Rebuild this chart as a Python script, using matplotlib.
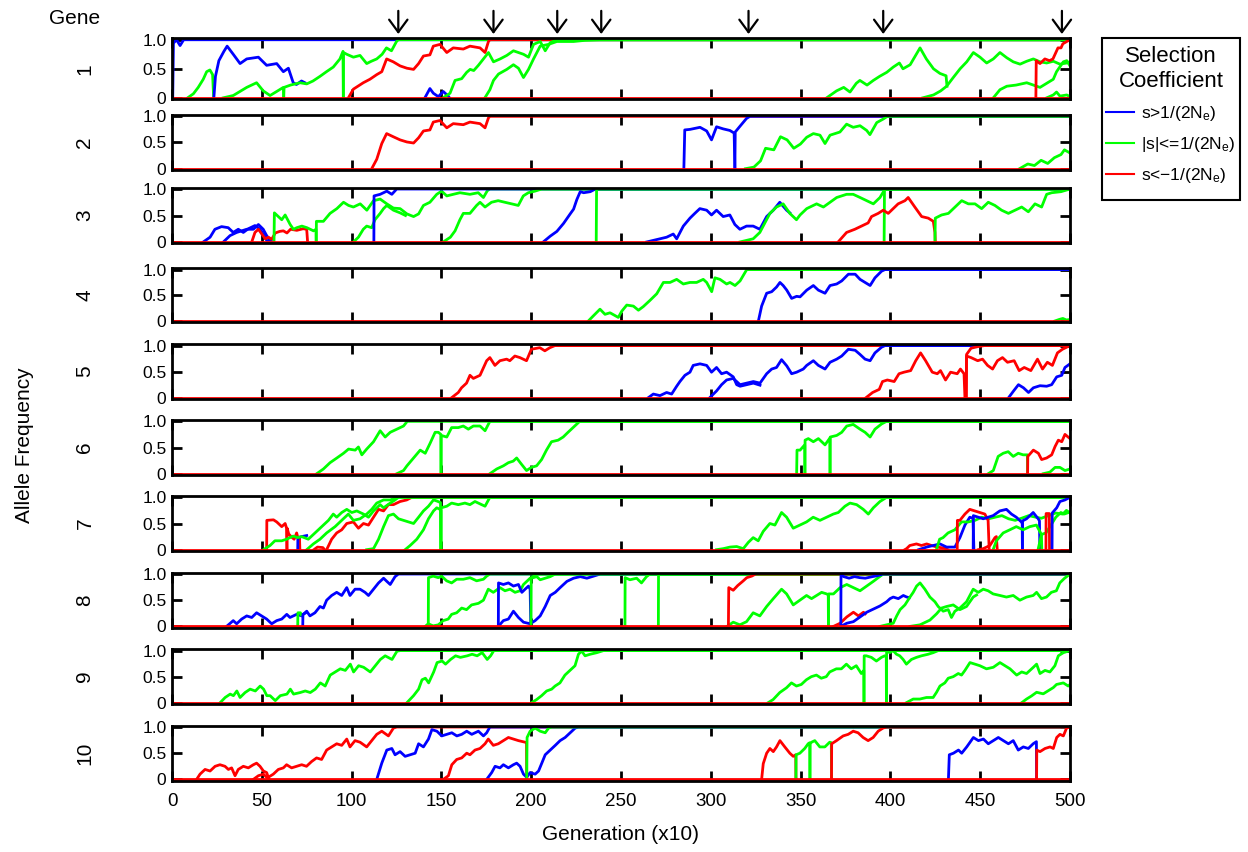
import matplotlib
matplotlib.use('Agg')
import matplotlib.pyplot as plt
from matplotlib.lines import Line2D
from matplotlib.patches import Rectangle

plt.rcParams['font.family'] = ['Liberation Sans', 'DejaVu Sans']
plt.rcParams['mathtext.default'] = 'regular'

# ---- data: allele trajectories per gene, (generation/10, frequency) ----
# 'b' s>1/(2Ne), 'g' |s|<=1/(2Ne), 'r' s<-1/(2Ne); plotted in this order
GEN_MAX = 500
ARROW_GENS = [126, 179, 214.5, 239, 321, 396, 495.5]

GENE_1 = [
    ('b', [(0.4, 0), (0.8, 0.94), (2.5, 1.0), (4.5, 0.9), (6.5, 1.0)]),
    ('g', [(8.7, 0), (11.9, 0.07), (14.6, 0.18), (17.4, 0.32), (19.3, 0.45), (21.1, 0.48), (22.6, 0.4), (23.2, 0)]),
    ('b', [(23.3, 0), (24.2, 0.37), (26.1, 0.64), (28.9, 0.8), (30.7, 0.89), (34.1, 0.75), (37.9, 0.59), (41.6, 0.67),
           (48.1, 0.70), (52.7, 0.56), (58.3, 0.59), (62, 0.45), (64.8, 0.51), (67.5, 0.26), (69.3, 0.23), (72.1, 0.29),
           (74, 0.26)]),
    ('g', [(28.5, 0), (34.1, 0.04), (41.6, 0.18), (47.1, 0.26), (50.8, 0.12), (54.6, 0.04), (62, 0.18), (62.2, 0)]),
    ('g', [(62.2, 0), (62.4, 0.18), (66, 0.22), (71.3, 0.26), (75, 0.24), (78.5, 0.29), (82.4, 0.37), (86, 0.45),
           (89.8, 0.53), (93.5, 0.67), (95.2, 0.8), (95.4, 0)]),
    ('g', [(95.4, 0), (95.5, 0.78), (97.3, 0.75), (101, 0.70), (104.7, 0.73), (108.4, 0.59), (111, 0.63), (114, 0.67),
           (117, 0.75), (119.4, 0.86), (122.2, 0.81), (125, 0.97), (126, 1.0)]),
    ('r', [(98.2, 0), (101, 0.15), (106.5, 0.26), (110.2, 0.32), (114, 0.40), (116.8, 0.45), (119.5, 0.67), (123.2, 0.62),
           (127, 0.55), (130.8, 0.51), (134.5, 0.49), (137.3, 0.59), (140, 0.72), (143.6, 0.74), (145.5, 0.89),
           (149.2, 0.92), (153, 0.78), (156.6, 0.86), (162.2, 0.84), (165.9, 0.89), (171.5, 0.86), (174.3, 0.78),
           (176.2, 0.97), (177, 1.0)]),
    ('b', [(140.8, 0), (143.6, 0.16), (145.5, 0.08), (148.3, 0.02), (151, 0.11), (153.8, 0.03), (154.5, 0)]),
    ('g', [(151, 0), (154.8, 0.08), (157.6, 0.30), (161.3, 0.33), (164.1, 0.44), (166, 0.49), (168, 0.47), (170.6, 0.56),
           (173.4, 0.67), (176.2, 0.78), (179, 0.62), (182.7, 0.67), (186.4, 0.73), (190.1, 0.81), (195.7, 0.75),
           (198.5, 0.70), (201.3, 0.92), (205, 0.97), (207.8, 0.81), (210.6, 0.95), (214.3, 1.0)]),
    ('g', [(174.2, 0), (177, 0.14), (179, 0.30), (181.8, 0.41), (186.4, 0.49), (190.1, 0.57), (192.9, 0.51),
           (195.7, 0.35), (198.5, 0.49), (201.3, 0.67), (205, 0.89), (209.6, 0.92), (214.3, 0.97), (223.6, 0.97),
           (230, 0.99), (238, 1.0)]),
    ('g', [(364.5, 0), (370, 0.12), (374, 0.18), (377.5, 0.1), (381, 0.25), (383, 0.3), (387, 0.22), (390.5, 0.3),
           (394, 0.37), (398, 0.44), (401.6, 0.53), (405, 0.6), (407, 0.5), (411, 0.57), (416.5, 0.86), (420, 0.67),
           (424, 0.5), (427.6, 0.42), (431, 0.38), (431.5, 0.2)]),
    ('g', [(418, 0), (424, 0.05), (428, 0.12), (431.3, 0.2), (435, 0.35), (438.8, 0.5), (442.5, 0.62), (446.2, 0.78),
           (449.9, 0.7), (453.6, 0.6), (457.3, 0.67), (461, 0.78), (464.8, 0.69), (468.4, 0.62), (472.2, 0.58),
           (475.9, 0.63), (479.6, 0.67), (483.3, 0.62), (487, 0.6), (490.7, 0.63), (494.4, 0.58), (498.2, 0.6),
           (500, 0.62)]),
    ('g', [(457.3, 0), (461, 0.14), (464.8, 0.2), (470, 0.22), (475.9, 0.26), (479.6, 0.22), (483.3, 0.18), (487, 0.25),
           (490.7, 0.32), (492.5, 0.45), (496.3, 0.62), (498.2, 0.64), (500, 0.55)]),
    ('g', [(487, 0), (490.7, 0.05), (492.5, 0.1), (494.4, 0.03), (498.2, 0.05), (500, 0.02)]),
    ('r', [(481, 0), (481.2, 0.64), (483.3, 0.59), (486, 0.67), (488.6, 0.64), (490.5, 0.67), (493.3, 0.86), (495, 0.86),
           (496, 0.93), (498.2, 0.97), (500, 1.0)]),
]

GENE_2 = [
    ('r', [(111.2, 0), (114, 0.18), (116.8, 0.48), (119.5, 0.67), (123.2, 0.61), (127, 0.55), (130.8, 0.51),
           (134.5, 0.49), (137.3, 0.59), (140, 0.72), (143.6, 0.74), (145.5, 0.89), (149.2, 0.92), (153, 0.78),
           (156.6, 0.86), (162.2, 0.84), (165.9, 0.89), (171.5, 0.86), (174.3, 0.78), (176.2, 0.97), (177, 1.0)]),
    ('b', [(285, 0), (285.5, 0.74), (288.4, 0.75), (294, 0.79), (297.7, 0.72), (300.4, 0.55), (303.2, 0.8),
           (306.9, 0.76), (310.6, 0.73), (313, 0.68), (313.4, 0)]),
    ('b', [(313.4, 0), (313.6, 0.7), (316, 0.8), (319.9, 0.96), (321.8, 1.0)]),
    ('g', [(319.3, 0), (324, 0.03), (327.7, 0.15), (330.5, 0.39), (335.1, 0.36), (338.8, 0.61), (342.5, 0.55),
           (346.2, 0.39), (349.9, 0.47), (353.4, 0.6), (357.1, 0.67), (360.8, 0.64), (363.6, 0.48), (366.4, 0.64),
           (371.9, 0.70), (375.6, 0.85), (379.3, 0.79), (383.1, 0.82), (386.8, 0.73), (388.6, 0.65), (392.4, 0.88),
           (396.1, 0.95), (398.3, 1.0)]),
    ('g', [(471.9, 0), (476.5, 0.09), (480.2, 0.06), (483.9, 0.16), (487.6, 0.1), (491.3, 0.21), (495, 0.27),
           (496.9, 0.36), (500, 0.3)]),
]

GENE_3 = [
    ('b', [(17.4, 0), (21.2, 0.09), (23.9, 0.24), (27.6, 0.29), (31.3, 0.27), (34.1, 0.18), (36.9, 0.24), (39.7, 0.18),
           (42.5, 0.25), (46.2, 0.31), (49, 0.24), (50.8, 0.15), (52.7, 0.03), (54.6, 0)]),
    ('b', [(28.6, 0), (32.3, 0.12), (36, 0.18), (41.6, 0.24), (45.3, 0.24), (48.1, 0.33), (50.8, 0.24), (52.7, 0.12),
           (54.6, 0.03), (56, 0)]),
    ('r', [(44.4, 0), (46.2, 0.18), (48.1, 0.24), (50, 0.15), (51.9, 0.06), (53.7, 0.09), (55.5, 0.05), (57.5, 0.17),
           (60, 0.2), (62, 0.21), (64, 0.17), (66, 0.24), (69.5, 0.22), (73, 0.25), (75, 0.24), (75.5, 0)]),
    ('g', [(56.8, 0), (57, 0.55), (59.2, 0.48), (61.1, 0.42), (63, 0.51), (65.8, 0.33), (67.6, 0.24), (69.5, 0.27),
           (72.3, 0.3), (75.1, 0.27), (78.8, 0.21), (80.2, 0.24), (80.3, 0)]),
    ('g', [(80.3, 0), (80.4, 0.39), (84.3, 0.39), (88, 0.54), (91.8, 0.63), (95.5, 0.75), (98.3, 0.69), (101, 0.66),
           (104.8, 0.72), (108.5, 0.6), (112.2, 0.78), (115.9, 0.81), (119.6, 0.72), (123.3, 0.64), (127, 0.63),
           (130.8, 0.53), (134.5, 0.48), (137.3, 0.53), (140, 0.69), (143.6, 0.75), (147.4, 0.9), (150.1, 0.96),
           (153, 0.87), (156.6, 0.9), (160.3, 0.93), (165.9, 0.9), (170.5, 0.93), (173.4, 0.84), (175.6, 0.97),
           (177, 1.0)]),
    ('g', [(101, 0), (103.8, 0.09), (106.5, 0.24), (108.4, 0.3), (111.2, 0.27), (113, 0.42), (115.9, 0.54),
           (117.8, 0.63), (119.6, 0.69), (123.3, 0.6), (127, 0.55), (130, 0.5)]),
    ('b', [(112.4, 0), (112.5, 0.87), (115.9, 0.9), (119.6, 0.96), (122.4, 0.9), (125.1, 1.0)]),
    ('g', [(151, 0), (155, 0.09), (157.6, 0.21), (160.3, 0.42), (162.2, 0.54), (165.9, 0.54), (169.6, 0.69),
           (171.5, 0.75), (174.3, 0.66), (177.9, 0.75), (181.6, 0.78), (185.3, 0.75), (189.1, 0.72), (192.8, 0.69),
           (195.6, 0.87), (198.4, 0.93), (202.1, 0.96), (205.8, 1.0)]),
    ('b', [(206.7, 0), (210.6, 0.11), (214.3, 0.2), (218, 0.35), (221.7, 0.53), (223.6, 0.62), (225.4, 0.8),
           (227.3, 0.95), (229.2, 0.93), (232.9, 0.95), (235.7, 1.0)]),
    ('g', [(236.2, 0), (236.4, 1.0)]),
    ('b', [(264.3, 0), (268, 0.03), (271.7, 0.06), (275.4, 0.09), (279.1, 0.15), (281, 0.06), (284.7, 0.3),
           (288.4, 0.45), (291.1, 0.54), (293.9, 0.63), (297.7, 0.6), (300.4, 0.51), (303.2, 0.6), (306.9, 0.48),
           (310.6, 0.51), (313.4, 0.33), (316.2, 0.24), (319.9, 0.3), (323.6, 0.3), (327.3, 0.24), (331.1, 0.48),
           (334.8, 0.6), (338.4, 0.75), (342.2, 0.6), (344, 0.55)]),
    ('g', [(316.2, 0), (323.6, 0.06), (327.3, 0.18), (330.1, 0.36), (332.9, 0.54), (336.6, 0.66), (340.3, 0.72),
           (344, 0.54), (347.7, 0.42), (349.7, 0.51), (353.4, 0.63), (358.9, 0.72), (362.7, 0.66), (366.4, 0.75),
           (370.1, 0.84), (375.6, 0.9), (379.3, 0.9), (383.1, 0.84), (386.8, 0.78), (390.5, 0.72), (394.2, 0.84),
           (397, 1.0)]),
    ('g', [(396.5, 0), (396.7, 1.0)]),
    ('r', [(370.9, 0), (375.6, 0.18), (380.2, 0.24), (383.9, 0.3), (387.6, 0.36), (389.5, 0.48), (393.2, 0.54),
           (396, 0.6), (398.8, 0.54), (404.3, 0.72), (408.1, 0.78), (409.9, 0.84), (413.6, 0.66), (417.4, 0.48),
           (421.1, 0.45), (423.9, 0.39), (424.8, 0.18), (425, 0)]),
    ('g', [(424.8, 0), (425, 0.45), (428.5, 0.51), (432.3, 0.54), (436, 0.66), (439.7, 0.78), (443.4, 0.72),
           (447.1, 0.72), (450.8, 0.63), (454.5, 0.75), (458.2, 0.69), (461.9, 0.6), (465.7, 0.54), (469.4, 0.6),
           (473.1, 0.66), (476.8, 0.57), (480.5, 0.72), (484.2, 0.66), (487, 0.9), (489.8, 0.93), (495, 0.95),
           (500, 1.0)]),
]

GENE_4 = [
    ('g', [(231.8, 0), (234.6, 0.1), (238.3, 0.23), (241.1, 0.13), (243.9, 0.16), (248.5, 0.07), (250.4, 0.19),
           (253.2, 0.31), (256.9, 0.29), (259.7, 0.21), (262.4, 0.28), (266.1, 0.40), (269.9, 0.53), (273.6, 0.75),
           (277.3, 0.75), (281, 0.81), (284.7, 0.72), (288.4, 0.75), (292.1, 0.75), (295.8, 0.81), (297.7, 0.75),
           (300.5, 0.57), (302.3, 0.84), (305.1, 0.81), (308.8, 0.72), (310.7, 0.75), (313.5, 0.69), (316.3, 0.78),
           (320, 1.0)]),
    ('b', [(326.5, 0), (328.3, 0.29), (331.1, 0.54), (333.9, 0.57), (336.6, 0.66), (338.5, 0.75), (340.3, 0.69),
           (342.3, 0.6), (345, 0.44), (347.8, 0.48), (349.7, 0.47), (353.4, 0.6), (357.1, 0.69), (359.9, 0.6),
           (363.6, 0.54), (366.4, 0.69), (370.1, 0.72), (372.9, 0.78), (376.6, 0.91), (380.4, 0.91), (383.1, 0.81),
           (385.9, 0.75), (388.7, 0.69), (391.4, 0.84), (395.1, 0.97), (397, 1.0)]),
    ('g', [(491.5, 0), (494, 0.03), (496, 0.05), (498, 0.02), (500, 0.03)]),
]

GENE_5 = [
    ('r', [(155.7, 0), (159.4, 0.1), (161.2, 0.19), (164, 0.28), (165.9, 0.43), (167.8, 0.37), (171.5, 0.43),
           (175.2, 0.71), (177, 0.77), (179.8, 0.62), (182.6, 0.71), (186.3, 0.74), (188.1, 0.71), (190.9, 0.8),
           (193.7, 0.77), (197.4, 0.71), (200.1, 0.93), (204.8, 0.96), (207.6, 0.9), (210.4, 0.96), (213.2, 1.0)]),
    ('b', [(265.2, 0), (268, 0.07), (271.7, 0.04), (275.4, 0.1), (278.2, 0.07), (281, 0.22), (282.8, 0.31),
           (285.6, 0.43), (288.4, 0.49), (290.2, 0.62), (294, 0.65), (297.7, 0.62), (300.4, 0.49), (303.2, 0.58),
           (306, 0.46), (308.8, 0.49), (312.5, 0.4), (314.4, 0.25), (316.3, 0.22), (320, 0.25), (323.7, 0.28),
           (327.4, 0.24)]),
    ('b', [(299.4, 0), (303.2, 0.13), (306, 0.25), (308.8, 0.34), (312.5, 0.37), (314.4, 0.31), (316.3, 0.25),
           (320, 0.28), (323.7, 0.31), (327.4, 0.28), (331.1, 0.46), (333.9, 0.55), (336.6, 0.58), (339.4, 0.73),
           (342.3, 0.61), (345, 0.46), (347.8, 0.49), (351.5, 0.55), (353.4, 0.62), (357.1, 0.71), (359.9, 0.62),
           (363.6, 0.55), (366.4, 0.68), (370.1, 0.74), (372.9, 0.8), (376.6, 0.93), (380.4, 0.91), (383.1, 0.83),
           (385.9, 0.74), (388.7, 0.71), (391.4, 0.86), (395.1, 0.97), (397, 1.0)]),
    ('r', [(386.4, 0), (390.1, 0.1), (393.8, 0.16), (395.6, 0.31), (398.3, 0.34), (402.1, 0.31), (404.8, 0.46),
           (407.6, 0.49), (411.3, 0.52), (414.1, 0.71), (416.8, 0.86), (419.6, 0.71), (423.3, 0.49), (426.1, 0.46),
           (427.9, 0.52), (430.7, 0.34), (433.5, 0.49), (437.2, 0.46), (439, 0.55), (441, 0.46), (441.5, 0)]),
    ('r', [(442.2, 0), (442.4, 0.8), (444.9, 0.77), (448.6, 0.71), (451.3, 0.74), (454.1, 0.62), (456.9, 0.55),
           (459.6, 0.71), (462.4, 0.77), (465.2, 0.68), (468.9, 0.71), (471.7, 0.52), (474.5, 0.58), (478.2, 0.52),
           (481.9, 0.74), (484.7, 0.55), (487.4, 0.68), (490.2, 0.62), (493, 0.86), (495.8, 0.93), (500, 1.0)]),
    ('r', [(442.2, 0), (442.4, 0.83), (444.9, 0.95), (448.6, 0.98), (452.3, 1.0)]),
    ('b', [(465.8, 0), (468.6, 0.13), (471.3, 0.25), (474.1, 0.19), (476.9, 0.1), (479.6, 0.19), (483.3, 0.23),
           (487, 0.22), (489.8, 0.25), (492.6, 0.4), (495.4, 0.43), (497.2, 0.58), (500, 0.65)]),
]

GENE_6 = [
    ('g', [(80.6, 0), (84.3, 0.09), (88, 0.21), (91.8, 0.3), (95.5, 0.39), (98.3, 0.47), (102, 0.45), (103.8, 0.51),
           (105.7, 0.36), (108.4, 0.47), (112.2, 0.61), (115.9, 0.82), (118.7, 0.7), (121.5, 0.79), (125.2, 0.85),
           (128.9, 0.91), (131, 1.0)]),
    ('g', [(125.2, 0), (128.9, 0.06), (130.8, 0.15), (134.5, 0.3), (138.2, 0.45), (141, 0.39), (143.7, 0.58),
           (146.5, 0.79), (148.3, 0.79), (149.7, 0.75), (149.8, 0)]),
    ('g', [(149.8, 0), (149.9, 0.73), (153, 0.7), (155.7, 0.88), (159.4, 0.88), (162.2, 0.91), (165, 0.85),
           (167.8, 0.91), (171.5, 0.91), (174.3, 0.82), (177, 1.0)]),
    ('g', [(177, 0), (180.8, 0.09), (184.5, 0.15), (187.3, 0.21), (190, 0.24), (191.9, 0.3), (194.6, 0.18),
           (197.4, 0.06), (200.1, 0.12), (203, 0.15), (205.8, 0.27), (208.5, 0.45), (211.3, 0.61), (215, 0.64),
           (217.8, 0.7), (220.5, 0.79), (223.3, 0.88), (226.1, 0.97), (227, 1.0)]),
    ('g', [(347.8, 0), (348, 0.45), (349.7, 0.45), (351, 0.5), (352.3, 0.55), (352.4, 0)]),
    ('g', [(352.4, 0), (352.5, 0.64), (354.3, 0.67), (357.1, 0.61), (359.9, 0.67), (363.6, 0.55), (366.3, 0.68),
           (366.4, 0)]),
    ('g', [(366.4, 0), (366.5, 0.70), (370.1, 0.73), (372.9, 0.79), (375.7, 0.91), (379.3, 0.94), (383.1, 0.85),
           (385.9, 0.79), (388.7, 0.7), (391.4, 0.85), (395.1, 0.95), (397.9, 1.0)]),
    ('g', [(454.5, 0), (457.3, 0.06), (460, 0.33), (462.8, 0.39), (465.6, 0.42), (468.4, 0.33), (471.2, 0.39),
           (473.9, 0.36), (476.3, 0.36), (476.4, 0)]),
    ('r', [(476.4, 0), (476.5, 0.33), (479.6, 0.45), (482.4, 0.39), (484.2, 0.27), (487, 0.3), (489.8, 0.36),
           (491.7, 0.52), (493.5, 0.64), (495.4, 0.61), (497.2, 0.75), (500, 0.67)]),
    ('g', [(485.1, 0), (488.8, 0.03), (491.7, 0.12), (494.4, 0.12), (497.2, 0.06), (500, 0.09)]),
]

GENE_7 = [
    ('r', [(52.7, 0), (52.8, 0.56), (56.5, 0.57), (58.3, 0.53), (61.1, 0.44), (63, 0.5), (63.8, 0.41), (64, 0)]),
    ('r', [(64, 0), (64.1, 0.41), (65, 0.3), (66.6, 0.24), (68, 0.2), (69.4, 0.32), (70.3, 0.2), (71, 0.22),
           (71.2, 0)]),
    ('b', [(70, 0), (70.1, 0.23), (72.2, 0.25), (75, 0.27)]),
    ('r', [(79, 0), (81, 0.05), (84, 0.04), (85, 0)]),
    ('r', [(86.1, 0), (88.9, 0.2), (91.7, 0.32), (94.5, 0.38), (97.3, 0.5), (101, 0.53), (103.8, 0.41), (106.6, 0.5),
           (109.4, 0.47), (112.2, 0.62), (115, 0.77), (117.8, 0.74), (120.5, 0.86), (123.3, 0.86), (127, 0.92),
           (130.7, 0.95), (133.5, 1.0)]),
    ('g', [(50.9, 0), (54.6, 0.08), (57.3, 0.17), (61.1, 0.17), (63.8, 0.2), (67.5, 0.26), (70, 0.23), (72.2, 0.25),
           (75.9, 0.2), (78.7, 0.29), (81.5, 0.38), (84.3, 0.47), (87.1, 0.56), (89.8, 0.68), (91.7, 0.62),
           (94.5, 0.71), (97.3, 0.77), (100.1, 0.71), (102.9, 0.74), (106.6, 0.68), (109.4, 0.62), (112.2, 0.74),
           (115.9, 0.86), (117.8, 0.8), (121.5, 0.89), (124.2, 0.95), (126.1, 1.0)]),
    ('g', [(75, 0), (78.7, 0.11), (82.4, 0.2), (86.1, 0.32), (90.8, 0.44), (95.4, 0.59), (98.2, 0.68), (101, 0.56),
           (104.7, 0.59), (108.4, 0.68), (111.2, 0.77), (114, 0.89), (117.8, 0.95), (121.5, 0.95), (125.2, 1.0)]),
    ('g', [(108.4, 0), (112.2, 0.02), (115, 0.2), (117.8, 0.44), (120.5, 0.65), (123.3, 0.68), (126.1, 0.59),
           (128.9, 0.56), (131.7, 0.53), (134.5, 0.5), (137.3, 0.62), (140, 0.74), (142.8, 0.83), (145.6, 0.95),
           (147.4, 0.93), (149.5, 0.9), (149.6, 0)]),
    ('g', [(129.8, 0), (132.6, 0.08), (136.3, 0.2), (140, 0.38), (142.8, 0.59), (145.6, 0.74), (147.4, 0.8),
           (149.2, 0.77), (149.7, 0.75), (149.8, 0)]),
    ('g', [(149.8, 0), (149.9, 0.8), (153, 0.83), (155.7, 0.89), (159.4, 0.86), (163.1, 0.89), (165.9, 0.86),
           (168.7, 0.92), (172.4, 0.86), (174.3, 0.83), (176.2, 0.95), (177, 1.0)]),
    ('g', [(303.2, 0), (307, 0.02), (310.7, 0.05), (314.4, 0.06), (318.1, 0.02), (320.9, 0.14), (323.6, 0.23),
           (326.4, 0.17), (329.2, 0.35), (332.9, 0.5), (335.7, 0.47), (339.4, 0.71), (342.2, 0.62), (345.9, 0.41),
           (349.6, 0.47), (353.3, 0.53), (357, 0.62), (360.8, 0.56), (364.5, 0.62), (368.2, 0.68), (371, 0.71),
           (374.7, 0.83), (377.5, 0.89), (381.2, 0.86), (384.9, 0.77), (387.7, 0.68), (390.5, 0.8), (394.2, 0.92),
           (397.9, 1.0)]),
    ('r', [(408, 0), (409, 0.02), (410.8, 0.08), (414.5, 0.11), (417.3, 0.08), (420.2, 0.11), (422.9, 0.08),
           (426, 0.05), (430, 0.03), (432, 0)]),
    ('b', [(415.7, 0), (420.2, 0.05), (423.9, 0.08), (427.6, 0.11), (431.3, 0.05), (435.9, 0.05), (438.7, 0.23),
           (441.5, 0.47), (444.2, 0.62), (446, 0.6), (446.5, 0)]),
    ('g', [(425.6, 0), (427.4, 0.2), (429.3, 0.23), (432.1, 0.32), (435.9, 0.38), (439.6, 0.53), (443.4, 0.53),
           (447.1, 0.56), (450.9, 0.62), (454.6, 0.59), (458.3, 0.62), (462.1, 0.65), (465.8, 0.59), (469.5, 0.56),
           (473, 0.6), (477, 0.65), (481, 0.62), (484, 0.6), (488, 0.65), (492, 0.7), (496, 0.68), (498, 0.75),
           (500, 0.7)]),
    ('r', [(437.2, 0), (437.3, 0.56), (438.7, 0.56), (441.5, 0.68), (444.2, 0.77), (447, 0.74), (449.8, 0.71),
           (452.6, 0.68), (454.4, 0.56), (455, 0)]),
    ('r', [(448.9, 0), (451.7, 0.02), (455.4, 0.08), (458.2, 0.23), (459, 0.25), (459.5, 0)]),
    ('b', [(446.1, 0), (446.2, 0.65), (448.9, 0.62), (451.7, 0.59), (454.4, 0.62), (457.2, 0.65), (460.9, 0.74),
           (464.6, 0.77), (467.4, 0.68), (470.1, 0.62), (472.9, 0.53), (473.4, 0.5), (473.5, 0)]),
    ('b', [(473.5, 0), (473.6, 0.55), (475.8, 0.59), (479.5, 0.71), (482.3, 0.59), (483, 0.55), (483.2, 0)]),
    ('g', [(457.2, 0), (459, 0.17), (462.8, 0.32), (466.5, 0.38), (470.1, 0.44), (473.9, 0.38), (477.6, 0.44),
           (481.3, 0.47), (484.1, 0.29), (484.3, 0)]),
    ('g', [(482.2, 0), (484.1, 0.29), (486.6, 0.32), (489.4, 0.47), (492.1, 0.62), (494.9, 0.71), (496.8, 0.68),
           (500, 0.72)]),
    ('r', [(486.6, 0), (486.7, 0.69), (488.5, 0.69), (488.6, 0)]),
    ('b', [(490, 0), (490.1, 0.7), (492.6, 0.8), (494.4, 0.92), (497.2, 0.95), (500, 1.0)]),
]

GENE_8 = [
    ('b', [(30.4, 0), (34.1, 0.11), (36, 0.05), (38.8, 0.14), (41.6, 0.2), (44.4, 0.17), (47.1, 0.26), (49.9, 0.2),
           (52.7, 0.14), (55.5, 0.05), (58.3, 0.11), (61.1, 0.14), (63.9, 0.23), (65.7, 0.17), (69.4, 0.23),
           (72.2, 0.2), (75, 0.29), (76.8, 0.2), (79.6, 0.26), (82.4, 0.38), (84.3, 0.35), (86.1, 0.5), (88.9, 0.59),
           (91.7, 0.65), (94.5, 0.59), (97.3, 0.74), (99.1, 0.59), (101.9, 0.71), (104.7, 0.71), (107.5, 0.65),
           (109.4, 0.59), (112.2, 0.71), (115, 0.83), (117.8, 0.92), (119.6, 0.86), (121.5, 0.8), (124.2, 0.95),
           (126.1, 1.0)]),
    ('g', [(70, 0), (70.1, 0.26), (71.5, 0.26), (72, 0.22)]),
    ('b', [(72.8, 0), (72.9, 0.23), (74, 0.25), (75, 0.27)]),
    ('g', [(142.7, 0), (142.8, 0.93), (145.4, 0.96), (148.3, 0.93), (150.1, 0.96), (152.9, 0.87), (155.7, 0.83),
           (158.5, 0.9), (162.2, 0.9), (165.9, 0.93), (169.6, 0.87), (173.4, 0.9), (175.2, 0.96), (177, 1.0)]),
    ('g', [(141, 0), (142.7, 0.05), (145.4, 0.01), (148.3, 0.03), (151, 0.11), (153.8, 0.14), (155.7, 0.23),
           (158.5, 0.26), (161.3, 0.35), (164, 0.32), (166.8, 0.41), (170.6, 0.44), (173.4, 0.5), (176.1, 0.71),
           (178.9, 0.65), (182.6, 0.74), (185.4, 0.68), (188.2, 0.71), (191, 0.65), (193.8, 0.68), (195.7, 0.8),
           (199.4, 0.92), (201.2, 0.95), (203, 1.0)]),
    ('b', [(181.7, 0), (181.8, 0.83), (184.5, 0.8), (187.3, 0.83), (190.1, 0.77), (192.9, 0.8), (194.8, 0.65),
           (196.6, 0.71), (198.5, 0.77), (199.4, 0.71), (199.8, 0)]),
    ('b', [(181.7, 0), (184.5, 0.11), (187.3, 0.14), (190.1, 0.29), (192.9, 0.17), (195.7, 0.08), (199.4, 0.05),
           (202.2, 0.11), (205, 0.2), (207.8, 0.38), (210.6, 0.59), (213.4, 0.65), (216.1, 0.74), (219.9, 0.86),
           (223.6, 0.92), (227.3, 0.95), (231, 0.92), (234.8, 0.96), (238.5, 1.0)]),
    ('g', [(199.9, 0), (200, 0.92), (203.1, 0.95), (205, 0.89), (207.8, 0.92), (210.6, 0.95), (213.4, 1.0)]),
    ('g', [(252.2, 0), (252.3, 0.93), (255, 0.89), (258.7, 0.92), (261.4, 0.83), (264.2, 0.95), (266.1, 1.0)]),
    ('g', [(270.8, 0), (270.9, 1.0)]),
    ('g', [(309, 0), (312.5, 0.08), (316.2, 0.03), (319.9, 0.09), (323.6, 0.26), (327.3, 0.2), (331.1, 0.38),
           (334.8, 0.53), (339.4, 0.71), (342.2, 0.62), (345.9, 0.41), (349.6, 0.5), (353.3, 0.59), (356.1, 0.53),
           (358.9, 0.59), (361.7, 0.65), (364.5, 0.62), (365.4, 0.6), (365.5, 0)]),
    ('r', [(309.8, 0), (310, 0.74), (312.5, 0.69), (315, 0.78), (318.1, 0.87), (320, 0.93), (322.8, 0.96),
           (325, 1.0)]),
    ('g', [(365.5, 0), (365.6, 0.62), (368.3, 0.62), (372, 0.74), (375.7, 0.8), (379.4, 0.74), (383.1, 0.68),
           (386.8, 0.77), (390.5, 0.86), (394, 0.95), (396, 1.0)]),
    ('r', [(368.3, 0), (372, 0.06), (375.7, 0.18), (379.4, 0.27), (382.2, 0.2), (385, 0.27), (386, 0.24)]),
    ('b', [(372.4, 0), (372.5, 1.0), (374, 0.95), (377, 0.92), (380, 0.95), (383, 0.93), (386, 0.92), (390, 0.95),
           (393, 0.97), (396, 1.0)]),
    ('b', [(372.4, 0), (375.7, 0.06), (379.4, 0.09), (383.1, 0.18), (386.8, 0.27), (390.5, 0.33), (394.2, 0.39),
           (397.9, 0.47), (399.8, 0.53), (401.6, 0.56), (404.4, 0.53), (407.2, 0.59), (409.1, 0.56), (410.5, 0.55)]),
    ('g', [(394.2, 0), (397.9, 0.03), (401.6, 0.06), (403.5, 0.2), (405.4, 0.32), (408.1, 0.41), (410.9, 0.56),
           (412.7, 0.65), (414.6, 0.77), (416.5, 0.83), (419.2, 0.71), (422, 0.56), (424.8, 0.47), (426.6, 0.38),
           (429.4, 0.29), (432.2, 0.32), (434, 0.17), (435.9, 0.29), (438.7, 0.35), (442.4, 0.47), (446.1, 0.71),
           (448.9, 0.65), (451.7, 0.71), (454.4, 0.68), (457.2, 0.62), (461, 0.59), (464.6, 0.56), (468.4, 0.59),
           (472.1, 0.5), (475.8, 0.56), (479.5, 0.59), (481.4, 0.65), (484.1, 0.53), (486.9, 0.56), (489.6, 0.65),
           (492.4, 0.68), (494.3, 0.83), (497, 0.92), (500, 1.0)]),
    ('g', [(410.9, 0), (416.5, 0.03), (422, 0.12), (425.7, 0.24), (428.5, 0.35), (431.3, 0.38), (435, 0.41),
           (438.7, 0.32), (442.4, 0.38), (446.1, 0.56), (448, 0.6)]),
]

GENE_9 = [
    ('g', [(26.8, 0), (29.6, 0.1), (32.4, 0.165), (34.2, 0.135), (36.1, 0.225), (37.9, 0.1), (40.7, 0.195),
           (43.5, 0.26), (46.4, 0.225), (49.1, 0.32), (51, 0.26), (52.8, 0.135), (54.6, 0.135), (57.5, 0.04),
           (60.3, 0.135), (64, 0.165), (65.9, 0.26), (67.7, 0.165), (71.4, 0.195), (74.2, 0.225), (77, 0.195),
           (79.8, 0.26), (82.6, 0.38), (85.3, 0.32), (88.1, 0.53), (90.9, 0.59), (93.7, 0.65), (96.5, 0.62),
           (99.3, 0.74), (101.1, 0.59), (103.9, 0.71), (106.7, 0.68), (110.4, 0.59), (113.2, 0.71), (116, 0.83),
           (118.7, 0.9), (122.5, 0.83), (125.3, 0.99), (127.1, 1.0)]),
    ('g', [(130.8, 0), (134.5, 0.135), (137.3, 0.26), (139.2, 0.44), (141.1, 0.47), (142.9, 0.38), (145.7, 0.59),
           (147.6, 0.77), (150.4, 0.8), (152.3, 0.74), (155.1, 0.83), (157.9, 0.9), (160.6, 0.87), (164.4, 0.9),
           (167.1, 0.93), (169.9, 0.9), (172.7, 0.96), (175.5, 0.83), (177.4, 0.9), (179.2, 1.0)]),
    ('g', [(200.2, 0), (203, 0.06), (205.8, 0.135), (208.6, 0.225), (211.4, 0.26), (213.3, 0.32), (216, 0.38),
           (218.8, 0.53), (221.6, 0.62), (224.4, 0.71), (226.3, 0.93), (228.1, 0.99), (230, 0.9), (232.8, 0.93),
           (236.5, 0.96), (240.2, 1.0)]),
    ('g', [(331.9, 0), (334.7, 0.06), (338.4, 0.195), (342.1, 0.285), (344.9, 0.38), (347.7, 0.32), (350.4, 0.35),
           (353.2, 0.44), (356, 0.5), (358.8, 0.53), (361.5, 0.47), (364.3, 0.5), (366.2, 0.59), (369.9, 0.65),
           (372.7, 0.65), (375.5, 0.74), (378.2, 0.65), (381, 0.71), (383.8, 0.56), (385.2, 0.62), (385.3, 0)]),
    ('g', [(385.3, 0), (385.4, 0.9), (386.6, 0.9), (389.4, 0.87), (392.2, 0.8), (395, 0.87), (396.8, 0.9),
           (397.7, 0.88), (397.8, 0)]),
    ('g', [(397.8, 0), (397.9, 1.0), (399.6, 0.96), (401.5, 1.0), (403.4, 0.93), (405.2, 0.9), (407.1, 0.83),
           (408.9, 0.74), (411.7, 0.83), (414.5, 0.87), (417.3, 0.9), (421, 0.93), (423.8, 0.96), (426.6, 1.0)]),
    ('g', [(408.9, 0), (412.7, 0.07), (416.4, 0.07), (420.1, 0.1), (423.8, 0.1), (425.7, 0.2), (427.6, 0.32),
           (430.3, 0.38), (432.2, 0.47), (435, 0.5), (437.8, 0.56), (439.6, 0.53), (441.5, 0.62), (444.3, 0.77),
           (447.1, 0.74), (449.8, 0.71), (453.5, 0.65), (457.3, 0.68), (461, 0.77), (463.8, 0.71), (466.6, 0.65),
           (470.3, 0.53), (473.1, 0.59), (475.8, 0.56), (479.6, 0.68), (481.4, 0.74), (483.3, 0.56), (486.1, 0.62),
           (488.8, 0.59), (491.6, 0.71), (493.5, 0.9), (496.3, 0.96), (500, 1.0)]),
    ('g', [(473.1, 0), (475.8, 0.07), (478.6, 0.13), (481.4, 0.2), (485.1, 0.17), (487.9, 0.23), (490.7, 0.29),
           (492.5, 0.35), (496.3, 0.38), (499, 0.32), (500, 0.35)]),
]

GENE_10 = [
    ('r', [(13.7, 0), (15.6, 0.1), (18.4, 0.19), (21.2, 0.16), (24, 0.25), (26.7, 0.28), (29.5, 0.25), (31.4, 0.19),
           (33.2, 0.22), (35.1, 0.07), (36.9, 0.19), (39.7, 0.25), (42.5, 0.22), (45.3, 0.28), (47.1, 0.31),
           (49, 0.25), (50.9, 0.16), (52.7, 0.13), (53.6, 0.04), (56.4, 0.1), (59.2, 0.19), (62, 0.22), (63.8, 0.28),
           (66.6, 0.22), (69.4, 0.25), (72.2, 0.28), (74.9, 0.25), (77.7, 0.34), (80.5, 0.41), (83.3, 0.38),
           (86.1, 0.56), (88.9, 0.62), (91.7, 0.68), (94.5, 0.65), (97.3, 0.77), (99.1, 0.62), (101.9, 0.74),
           (104.7, 0.71), (108.4, 0.62), (111.2, 0.74), (114, 0.86), (116.8, 0.92), (120.5, 0.83), (123.3, 0.98),
           (125.2, 1.0)]),
    ('r', [(45.3, 0), (48.1, 0.07), (50.9, 0.1), (52.7, 0.04), (54, 0)]),
    ('b', [(114, 0), (116.8, 0.31), (119.6, 0.56), (122.4, 0.59), (124.2, 0.47), (127, 0.53), (129.8, 0.44),
           (132.6, 0.47), (135.4, 0.5), (137.3, 0.68), (140, 0.62), (142.8, 0.77), (144.7, 0.95), (147.5, 0.92),
           (150.2, 0.83), (153, 0.86), (155.8, 0.89), (158.6, 0.83), (161.3, 0.86), (164.1, 0.92), (166.9, 0.86),
           (170.6, 0.92), (173.4, 0.83), (175.2, 0.89), (177, 1.0)]),
    ('r', [(151.1, 0), (153.9, 0.07), (155.8, 0.28), (158.5, 0.38), (161.3, 0.41), (164.1, 0.5), (165.9, 0.47),
           (168.7, 0.56), (171.5, 0.59), (174.3, 0.68), (176.1, 0.77), (178.9, 0.65), (181.7, 0.68), (184.5, 0.74),
           (187.3, 0.8), (190.1, 0.77), (192.9, 0.74), (196.6, 0.71), (197.4, 0.7), (197.5, 0)]),
    ('b', [(175.2, 0), (178, 0.13), (179.9, 0.25), (182.6, 0.22), (184.5, 0.28), (187.3, 0.22), (190.1, 0.28),
           (191.9, 0.31), (193.8, 0.25), (195.7, 0.1), (197.5, 0.04), (199.4, 0.13), (202.2, 0.1), (204.1, 0.16),
           (205.9, 0.31), (207.8, 0.47), (210.6, 0.56), (213.4, 0.65), (216.1, 0.74), (218.9, 0.8), (221.7, 0.89),
           (224.5, 0.98), (226.3, 1.0)]),
    ('g', [(197.5, 0), (197.7, 0.8), (199.4, 0.92), (202.2, 0.98), (205, 0.92), (207.8, 0.89), (209.7, 0.98),
           (211.5, 1.0)]),
    ('r', [(328.3, 0), (329.2, 0.3), (331.1, 0.5), (332.9, 0.59), (334.8, 0.53), (336.6, 0.62), (338.5, 0.74),
           (341.2, 0.62), (344, 0.5), (345.9, 0.44), (347.3, 0.47), (347.4, 0)]),
    ('g', [(347.4, 0), (347.5, 0.47), (349.6, 0.5), (352.3, 0.59), (354.2, 0.68), (355.1, 0.7), (355.2, 0)]),
    ('g', [(355.2, 0), (355.3, 0.68), (356.1, 0.71), (357.9, 0.74), (360.7, 0.62), (363.5, 0.62), (366.2, 0.71),
           (367.1, 0.7), (367.2, 0)]),
    ('r', [(367.2, 0), (367.3, 0.68), (370, 0.74), (373.7, 0.83), (376.5, 0.86), (379.3, 0.92), (382, 0.89),
           (384.8, 0.8), (387.6, 0.74), (390.4, 0.8), (393.2, 0.92), (395.9, 0.98), (397.8, 1.0)]),
    ('b', [(432.3, 0), (432.8, 0.47), (435.1, 0.5), (437.9, 0.56), (439.7, 0.5), (442.5, 0.62), (446.2, 0.8),
           (449, 0.74), (451.8, 0.77), (454.5, 0.68), (457.3, 0.74), (460.1, 0.8), (462.9, 0.74), (465.7, 0.68),
           (468.4, 0.74), (471.2, 0.56), (474, 0.62), (476.8, 0.59), (479.5, 0.68), (481.3, 0.72), (481.4, 0)]),
    ('r', [(481.4, 0), (481.5, 0.56), (483.3, 0.53), (486.1, 0.59), (488.9, 0.62), (490.7, 0.59), (492.6, 0.8),
           (494.4, 0.86), (496.3, 0.83), (498.1, 0.98), (500, 1.0)]),
]

GENES = [GENE_1, GENE_2, GENE_3, GENE_4, GENE_5, GENE_6, GENE_7, GENE_8, GENE_9, GENE_10]
GENE_NAMES = [str(i + 1) for i in range(len(GENES))]
X_TICKS = list(range(0, 501, 50))
Y_TICKS = [0, 0.5, 1.0]
Y_TICKLABELS = ['0', '0.5', '1.0']

LEGEND_LABELS = ['s>1/(2N$_e$)', '|s|<=1/(2N$_e$)', 's<\u22121/(2N$_e$)']
COLORS = {'b': '#0000ff', 'g': '#00ff00', 'r': '#ff0000'}

# ---- layout (pixels of the 1248x852 canvas) ----
W, H = 1248, 852
X_LEFT, X_RIGHT = 172, 1070
PANEL_PX = [(38.3, 99.3), (115, 170), (187.7, 243.3), (268.3, 322.3), (344.3, 399),
            (420, 475), (496, 551), (572.7, 627.7), (649.3, 704), (725.7, 780.7)]
LW = 2.0

fig = plt.figure(figsize=(W / 100, H / 100), dpi=100)

axes = []
for i, (traces, (top, bot)) in enumerate(zip(GENES, PANEL_PX)):
    ax = fig.add_axes([X_LEFT / W, 1 - bot / H, (X_RIGHT - X_LEFT) / W, (bot - top) / H])
    for c, pts in traces:
        xs = [p[0] for p in pts]
        ys = [p[1] for p in pts]
        if ys[-1] >= 1.0 and xs[-1] < GEN_MAX:   # fixed allele stays at 1
            xs.append(GEN_MAX)
            ys.append(1.0)
        ax.plot(xs, ys, color=COLORS[c], lw=LW)
    # alleles that were lost sit on the zero line
    ax.plot([0, GEN_MAX], [0, 0], color=COLORS['r'], lw=LW)

    ax.set_xlim(0, GEN_MAX)
    ax.set_ylim(-0.025, 1.025)
    ax.set_xticks(X_TICKS)
    ax.set_yticks(Y_TICKS)
    ax.set_yticklabels(Y_TICKLABELS)
    ax.tick_params(direction='in', length=7, width=2.0, top=True, right=True,
                   labelsize=12.5, pad=4)
    ax.tick_params(axis='x', labelsize=13.5, pad=9)
    if i < len(GENES) - 1:
        ax.tick_params(axis='x', labelbottom=False)
    for sp in ax.spines.values():
        sp.set_linewidth(2.0)
    fig.text(85 / W, 1 - (top + bot) / 2 / H, GENE_NAMES[i], rotation=90,
             ha='center', va='center', fontsize=15)
    axes.append(ax)

# arrows above the first gene
ax1 = axes[0]
trans = ax1.get_xaxis_transform()
for g in ARROW_GENS:
    ax1.annotate('', xy=(g, 1.07), xytext=(g, 1.45), xycoords=trans, textcoords=trans,
                 arrowprops=dict(arrowstyle='->,head_length=0.45,head_width=0.33', lw=1.6,
                                 color='black', shrinkA=0, shrinkB=0, mutation_scale=20),
                 annotation_clip=False)

fig.text(75 / W, 1 - 18 / H, 'Gene', ha='center', va='center', fontsize=15)
fig.text(25 / W, 1 - 445 / H, 'Allele Frequency', rotation=90, ha='center', va='center', fontsize=15)
fig.text(620 / W, 1 - 835 / H, 'Generation (x10)', ha='center', va='center', fontsize=15)

# legend: entries without frame, box drawn separately to match the reference size
handles = [Line2D([], [], color=COLORS[c], lw=1.5) for c in ['b', 'g', 'r']]
leg = fig.legend(handles, LEGEND_LABELS, title='Selection\nCoefficient',
                 loc='upper center', bbox_to_anchor=(1171 / W, 1 - 43 / H),
                 fontsize=12.5, title_fontsize=16, frameon=False,
                 handlelength=1.6, handletextpad=0.4,
                 labelspacing=0.7, borderpad=0.2, borderaxespad=0)
leg.get_title().set_multialignment('center')
fig.patches.append(Rectangle((1102 / W, 1 - 200 / H), 138 / W, 162 / H,
                             transform=fig.transFigure, fill=False,
                             edgecolor='black', linewidth=1.5))

fig.savefig('out.png', dpi=100)
